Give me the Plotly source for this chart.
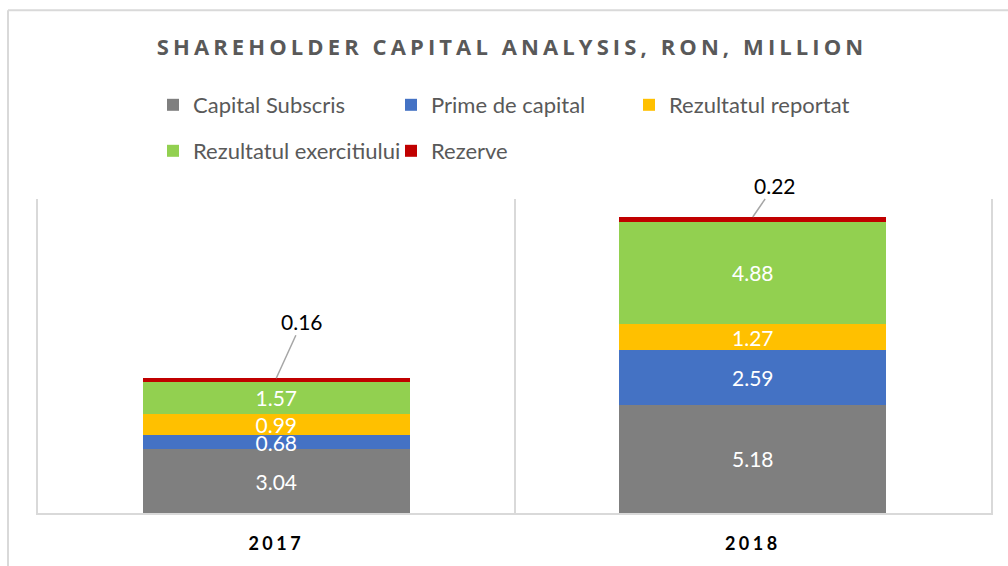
import plotly.graph_objects as go

years = ["2017", "2018"]
capital_subscris = [3.04, 5.18]
prime_de_capital = [0.68, 2.59]
rezultatul_reportat = [0.99, 1.27]
rezultatul_exercitiului = [1.57, 4.88]
rezerve = [0.16, 0.22]

series = [
    ("Capital Subscris", capital_subscris, "#7f7f7f", "legend"),
    ("Prime de capital", prime_de_capital, "#4472c4", "legend"),
    ("Rezultatul reportat", rezultatul_reportat, "#ffc000", "legend"),
    ("Rezultatul exercitiului", rezultatul_exercitiului, "#92d050", "legend2"),
    ("Rezerve", rezerve, "#c00000", "legend2"),
]

fig = go.Figure()

for name, vals, color, leg in series:
    show_text = name != "Rezerve"
    fig.add_trace(go.Bar(
        x=years,
        y=vals,
        name=name,
        marker=dict(color=color, line=dict(width=0)),
        width=0.56,
        text=[f"{v:.2f}" for v in vals] if show_text else None,
        textposition="inside" if show_text else "none",
        insidetextanchor="middle",
        textangle=0,
        textfont=dict(color="white", size=21, family="Lato"),
        legend=leg,
        hoverinfo="skip",
    ))

# callout labels for the thin red segment
totals = [sum(v) for v in zip(capital_subscris, prime_de_capital, rezultatul_reportat,
                             rezultatul_exercitiului, rezerve)]
offsets = [(26, -57), (22, -32)]
for i, (tot, val, (ax, ay)) in enumerate(zip(totals, rezerve, offsets)):
    fig.add_annotation(
        x=i, y=tot, text=f"{val:.2f}",
        showarrow=True, arrowhead=0, arrowwidth=1.5, arrowcolor="#a6a6a6",
        ax=ax, ay=ay,
        font=dict(color="black", size=21, family="Lato"),
    )

# outer chart border (clipped at right/bottom like the source)
fig.add_shape(type="line", xref="paper", yref="paper", x0=-0.0315, x1=-0.0315, y0=-0.3, y1=1.601,
              line=dict(color="#d9d9d9", width=2))
fig.add_shape(type="line", xref="paper", yref="paper", x0=-0.0315, x1=1.1, y0=1.601, y1=1.601,
              line=dict(color="#d9d9d9", width=2))

legend_style = dict(
    orientation="h", xref="container", yref="container",
    x=0.1518, xanchor="left", yanchor="middle",
    entrywidth=193, entrywidthmode="pixels", traceorder="normal",
    font=dict(family="Lato", size=22, color="#595959"),
    bgcolor="rgba(0,0,0,0)",
)

fig.update_layout(
    width=1008,
    height=566,
    barmode="stack",
    plot_bgcolor="white",
    paper_bgcolor="white",
    margin=dict(l=38, r=17, t=199, b=51),
    title=dict(
        text='<span style="letter-spacing:4.1px">SHAREHOLDER CAPITAL ANALYSIS, RON, MILLION</span>',
        x=0.508, xanchor="center", y=1 - 47 / 566, yanchor="middle",
        font=dict(family="Open Sans", size=22, color="#595959", weight="bold"),
    ),
    legend=dict(legend_style, y=1 - 105 / 566),
    legend2=dict(legend_style, y=1 - 151 / 566),
    uniformtext=dict(minsize=21, mode="show"),
    showlegend=True,
)

fig.update_xaxes(
    type="category",
    tickvals=years,
    ticktext=[f'<span style="letter-spacing:3.5px">{y}</span>' for y in years],
    tickson="boundaries",
    showgrid=True, gridcolor="#d9d9d9", gridwidth=2,
    showline=True, linecolor="#d9d9d9", linewidth=2,
    ticks="", ticklabelstandoff=13,
    tickfont=dict(family="Lato", size=18, color="black", weight="bold"),
    range=[-0.5, 1.5],
)
fig.update_yaxes(
    range=[0, 15], showticklabels=False, showgrid=False, zeroline=False,
    showline=True, mirror=True, linecolor="#d9d9d9", linewidth=2, ticks="",
)

fig.write_html("out.html", config={"displayModeBar": False},
               post_script="document.body.style.margin='0';")
